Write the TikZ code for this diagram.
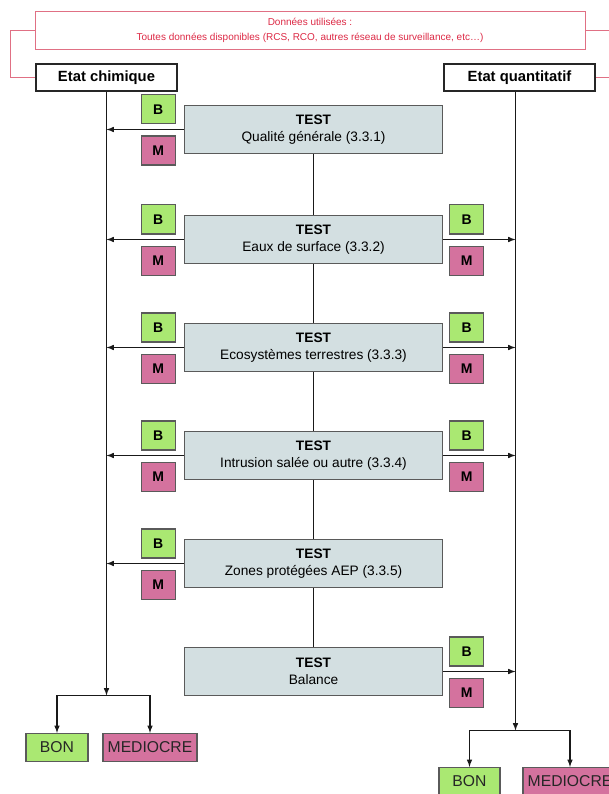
\documentclass[tikz,border=0pt]{standalone}
\usepackage{fontspec}
\setmainfont{Liberation Sans}
\usetikzlibrary{positioning,arrows}

\definecolor{rougetxt}{RGB}{220,40,68}
\definecolor{rougecadre}{RGB}{224,112,132}
\definecolor{vertbon}{RGB}{170,232,114}
\definecolor{rosemed}{RGB}{212,114,158}
\definecolor{grisbleu}{RGB}{211,223,225}
\definecolor{grisbord}{RGB}{90,90,90}

\begin{document}
\begin{tikzpicture}[x=1pt,y=-1pt,>=latex,semithick]
  \tikzstyle{testbox}=[draw=grisbord,line width=1.2pt,fill=grisbleu,minimum width=258,
                       minimum height=48,align=center,inner sep=0pt,
                       font=\fontsize{13.7}{16.5}\selectfont]
  \tikzstyle{etat}=[draw=black!85,line width=1.2pt,fill=white,minimum height=27,inner sep=0pt,
                    font=\bfseries\fontsize{14.8}{16}\selectfont]
  \tikzstyle{boxB}=[draw=grisbord,line width=1.2pt,fill=vertbon,minimum width=34,
                    minimum height=29,inner sep=0pt,font=\bfseries\fontsize{14}{16}\selectfont]
  \tikzstyle{boxM}=[boxB,fill=rosemed]
  \tikzstyle{resultat}=[draw=grisbord,line width=1.2pt,minimum height=28,inner sep=0pt,
                        text=black!85,font=\fontsize{15.7}{17}\selectfont]
  \tikzstyle{lien}=[black!90,line width=1.5pt]

  \useasboundingbox (0,0) rectangle (608,794);

  % donnees d'entree
  \node[draw=rougecadre,line width=1pt,minimum width=550,minimum height=38,align=center,
        text=rougetxt,font=\fontsize{10}{15.7}\selectfont] (donnees) at (310,30.5)
        {Données utilisées :\\Toutes données disponibles (RCS, RCO, autres réseau de surveillance, etc…)};
  \node[etat,minimum width=141] (chim)  at (106.5,77.5) {Etat chimique};
  \node[etat,minimum width=151] (quant) at (519.5,77.5) {Etat quantitatif};

  % tests
  \node[testbox] (t1) at (313.5,129.5) {\textbf{TEST}\\Qualité générale (3.3.1)};
  \node[testbox] (t2) at (313.5,239.5) {\textbf{TEST}\\Eaux de surface (3.3.2)};
  \node[testbox] (t3) at (313.5,347.5) {\textbf{TEST}\\Ecosystèmes terrestres (3.3.3)};
  \node[testbox] (t4) at (313.5,455.5) {\textbf{TEST}\\Intrusion salée ou autre (3.3.4)};
  \node[testbox] (t5) at (313.5,563.5) {\textbf{TEST}\\Zones protégées AEP (3.3.5)};
  \node[testbox] (t6) at (313.5,671.5) {\textbf{TEST}\\Balance};

  % B / M cote chimique
  \node[boxB] (b1) [above left=5pt and 8pt of t1.west] {B};
  \node[boxM] (m1) [below left=6pt and 8pt of t1.west] {M};
  \node[boxB] (b2) [above left=5pt and 8pt of t2.west] {B};
  \node[boxM] (m2) [below left=6pt and 8pt of t2.west] {M};
  \node[boxB] (b3) [above left=5pt and 8pt of t3.west] {B};
  \node[boxM] (m3) [below left=6pt and 8pt of t3.west] {M};
  \node[boxB] (b4) [above left=5pt and 8pt of t4.west] {B};
  \node[boxM] (m4) [below left=6pt and 8pt of t4.west] {M};
  \node[boxB] (b5) [above left=5pt and 8pt of t5.west] {B};
  \node[boxM] (m5) [below left=6pt and 8pt of t5.west] {M};

  % B / M cote quantitatif
  \node[boxB] (qb2) [above right=5pt and 6pt of t2.east] {B};
  \node[boxM] (qm2) [below right=6pt and 6pt of t2.east] {M};
  \node[boxB] (qb3) [above right=5pt and 6pt of t3.east] {B};
  \node[boxM] (qm3) [below right=6pt and 6pt of t3.east] {M};
  \node[boxB] (qb4) [above right=5pt and 6pt of t4.east] {B};
  \node[boxM] (qm4) [below right=6pt and 6pt of t4.east] {M};
  \node[boxB] (qb6) [above right=5pt and 6pt of t6.east] {B};
  \node[boxM] (qm6) [below right=6pt and 6pt of t6.east] {M};

  % resultats
  \node[resultat,fill=vertbon,minimum width=62]  (bonL) at (57,747.5)    {BON};
  \node[resultat,fill=rosemed,minimum width=94]  (medL) at (150,747.5)   {MEDIOCRE};
  \node[resultat,fill=vertbon,minimum width=61]  (bonR) at (469.5,781.5) {BON};
  \node[resultat,fill=rosemed,minimum width=94]  (medR) at (570,781.5)   {MEDIOCRE};

  \coordinate (brancheL) at (106.5,695.5);
  \coordinate (brancheR) at (515.5,730.5);

  % liaisons rouges
  \draw[rougecadre,line width=1pt] (donnees.west) -- ++(-24,0) |- (chim.west);
  \draw[rougecadre,line width=1pt] (donnees.east) -- ++(24,0) |- (quant.east);

  % axes verticaux
  \draw[lien,->] (chim.south) -- (brancheL);
  \draw[lien,->] (quant.south -| brancheR) -- (brancheR);
  \draw[lien,->] (brancheL) -| (bonL.north);
  \draw[lien,->] (brancheL) -| (medL.north);
  \draw[lien,->] (brancheR) -| (bonR.north);
  \draw[lien,->] (brancheR) -| (medR.north);

  % enchainement des tests
  \path[lien] (t1) edge (t2)
              (t2) edge (t3)
              (t3) edge (t4)
              (t4) edge (t5)
              (t5) edge (t6);

  % sorties des tests
  \draw[lien,->] (t1.west) -- (t1.west -| brancheL);
  \draw[lien,->] (t2.west) -- (t2.west -| brancheL);
  \draw[lien,->] (t3.west) -- (t3.west -| brancheL);
  \draw[lien,->] (t4.west) -- (t4.west -| brancheL);
  \draw[lien,->] (t5.west) -- (t5.west -| brancheL);
  \draw[lien,->] (t2.east) -- (t2.east -| brancheR);
  \draw[lien,->] (t3.east) -- (t3.east -| brancheR);
  \draw[lien,->] (t4.east) -- (t4.east -| brancheR);
  \draw[lien,->] (t6.east) -- (t6.east -| brancheR);
\end{tikzpicture}
\end{document}
